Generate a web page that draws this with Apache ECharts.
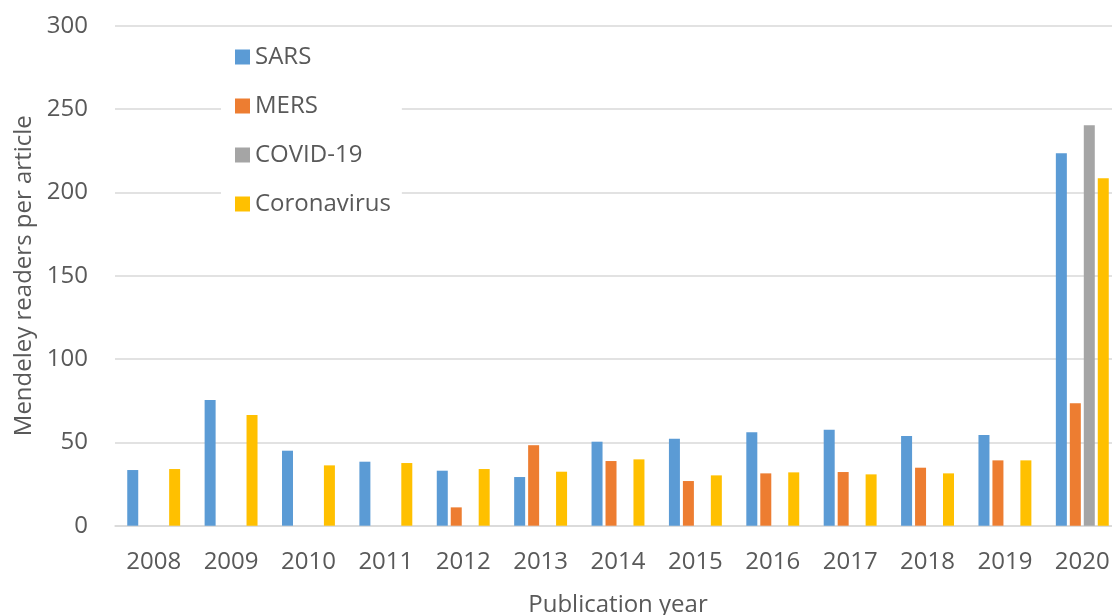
<!DOCTYPE html>
<html>
<head>
<meta charset="utf-8">
<title>Mendeley readers per article</title>
<script src="https://cdn.jsdelivr.net/npm/echarts@6/dist/echarts.min.js"></script>
<style>
  html, body { margin: 0; padding: 0; background: #fff; }
  #chart { width: 1112px; height: 615px; }
</style>
</head>
<body>
<div id="chart"></div>
<script>
const years = ["2008", "2009", "2010", "2011", "2012", "2013", "2014",
  "2015", "2016", "2017", "2018", "2019", "2020"];
const sars = [33.4, 75.4, 45, 38.4, 33, 29.2, 50.4, 52.2, 56, 57.6, 53.8, 54.4, 223.5];
const mers = [null, null, null, null, 11, 48.3, 38.8, 26.8, 31.4, 32.2, 34.8, 39.2, 73.5];
const covid = [null, null, null, null, null, null, null, null, null, null, null, null, 240.3];
const coronavirus = [34, 66.4, 36.2, 37.6, 34, 32.4, 39.8, 30.2, 32, 30.8, 31.4, 39.2, 208.5];
const yTicks = [0, 50, 100, 150, 200, 250, 300];

const textColor = "#595959";
const font = "Open Sans";

const chart = echarts.init(document.getElementById("chart"));

const barSeries = (name, data, color) => ({
  name,
  type: "bar",
  data,
  barWidth: 11,
  barGap: "27%",
  itemStyle: { color },
});

chart.setOption({
  animation: false,
  textStyle: { fontFamily: font },
  grid: {
    left: 115,
    right: -9,
    top: 25.7,
    bottom: 89.3,
    outerBoundsMode: "none",
  },
  legend: {
    orient: "vertical",
    left: 221,
    top: 28,
    padding: [17, 11, 14, 14],
    backgroundColor: "#fff",
    icon: "rect",
    itemWidth: 15,
    itemHeight: 15,
    itemGap: 25,
    textStyle: { fontSize: 24, color: textColor, fontFamily: font },
  },
  xAxis: {
    type: "category",
    data: years,
    name: "Publication year",
    nameLocation: "middle",
    nameGap: 67,
    nameTextStyle: { fontSize: 24, color: textColor },
    axisLine: { lineStyle: { color: "#d9d9d9", width: 1.5 } },
    axisTick: { show: false },
    axisLabel: { fontSize: 24, color: textColor, margin: 24 },
  },
  yAxis: {
    type: "value",
    min: yTicks[0],
    max: yTicks[yTicks.length - 1],
    interval: 50,
    name: "Mendeley readers per article",
    nameLocation: "middle",
    nameGap: 77,
    nameTextStyle: { fontSize: 24, color: textColor },
    axisLine: { show: false },
    axisTick: { show: false },
    axisLabel: { fontSize: 24, color: textColor, margin: 27 },
    splitLine: { lineStyle: { color: "#d9d9d9", width: 1.5 } },
  },
  series: [
    barSeries("SARS", sars, "#5b9bd5"),
    barSeries("MERS", mers, "#ed7d31"),
    barSeries("COVID-19", covid, "#a5a5a5"),
    barSeries("Coronavirus", coronavirus, "#ffc000"),
  ],
});
</script>
</body>
</html>
